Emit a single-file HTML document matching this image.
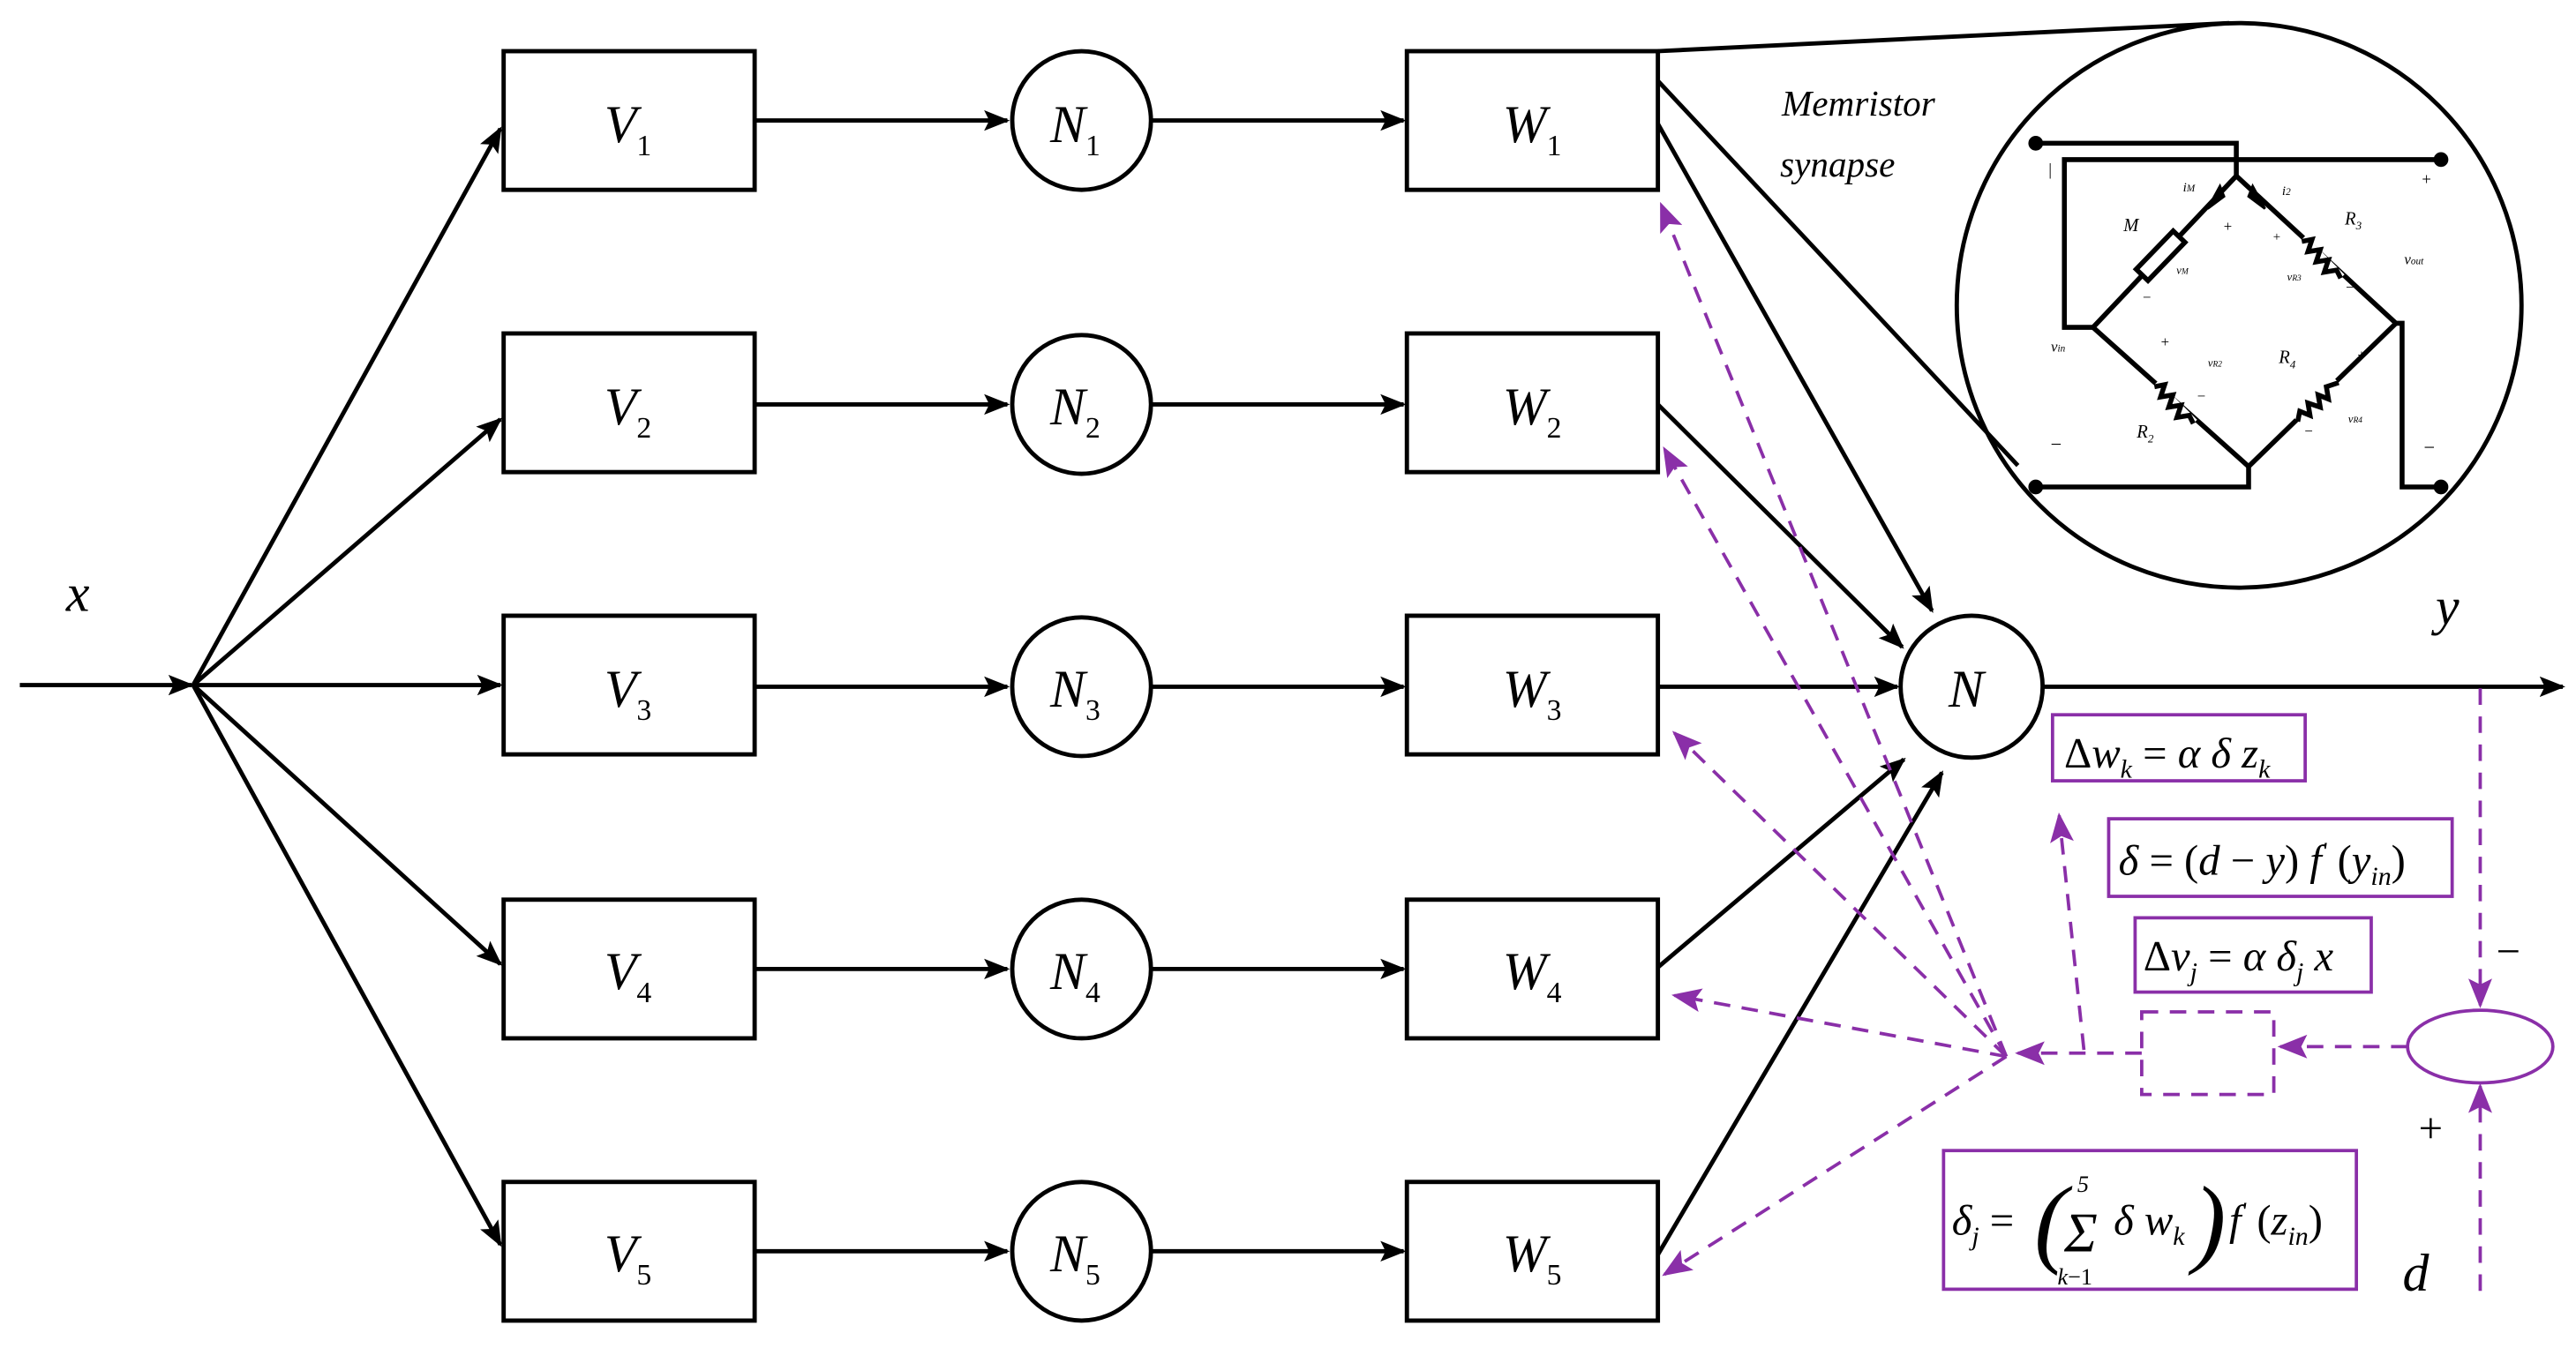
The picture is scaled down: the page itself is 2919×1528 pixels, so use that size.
<!DOCTYPE html>
<html><head><meta charset="utf-8"><style>
html,body{margin:0;padding:0;background:#fff;}
svg{display:block;}
svg text{font-family:"Liberation Serif","Times New Roman",serif;font-style:italic;}
</style></head><body>
<svg width="2919" height="1528" viewBox="0 0 1560 816.6" preserveAspectRatio="none" xmlns="http://www.w3.org/2000/svg" font-family="Liberation Serif, serif">
<defs>
<marker id="a" viewBox="0 0 10 10" refX="9" refY="5" markerWidth="6" markerHeight="6" orient="auto" markerUnits="strokeWidth"><path d="M0,1 L10,5 L0,9 L2,5z" fill="#000"/></marker>
<marker id="p" viewBox="0 0 10 10" refX="9" refY="5" markerWidth="9" markerHeight="9" orient="auto" markerUnits="strokeWidth"><path d="M0,1 L10,5 L0,9 L2,5z" fill="#8a2fa8"/></marker>
</defs>
<g stroke="#000" stroke-width="2.6" fill="none">
<line x1="12" y1="415" x2="116" y2="415" marker-end="url(#a)"/>
<line x1="117" y1="415" x2="303" y2="78" marker-end="url(#a)"/>
<line x1="117" y1="415" x2="303" y2="254" marker-end="url(#a)"/>
<line x1="117" y1="415" x2="303" y2="415" marker-end="url(#a)"/>
<line x1="117" y1="415" x2="303" y2="584" marker-end="url(#a)"/>
<line x1="117" y1="415" x2="303" y2="754" marker-end="url(#a)"/>
<rect x="305" y="31" width="152" height="84"/>
<rect x="305" y="202" width="152" height="84"/>
<rect x="305" y="373" width="152" height="84"/>
<rect x="305" y="545" width="152" height="84"/>
<rect x="305" y="716" width="152" height="84"/>
<rect x="852" y="31" width="152" height="84"/>
<rect x="852" y="202" width="152" height="84"/>
<rect x="852" y="373" width="152" height="84"/>
<rect x="852" y="545" width="152" height="84"/>
<rect x="852" y="716" width="152" height="84"/>
<g id="r">
<line x1="458" y1="73" x2="610" y2="73" marker-end="url(#a)"/>
<line x1="698" y1="73" x2="850" y2="73" marker-end="url(#a)"/>
</g>
<use href="#r" y="172"/><use href="#r" y="343"/><use href="#r" y="514"/><use href="#r" y="685"/>
<ellipse cx="655" cy="73" rx="42" ry="42"/>
<ellipse cx="655" cy="245" rx="42" ry="42"/>
<ellipse cx="655" cy="416" rx="42" ry="42"/>
<ellipse cx="655" cy="587" rx="42" ry="42"/>
<ellipse cx="655" cy="758" rx="42" ry="42"/>
<ellipse cx="1194" cy="416" rx="43" ry="43"/>
<line x1="1004" y1="31" x2="1350" y2="14"/>
<line x1="1004" y1="49" x2="1222" y2="282"/>
<line x1="1004" y1="75" x2="1170" y2="370" marker-end="url(#a)"/>
<line x1="1004" y1="245" x2="1152" y2="392" marker-end="url(#a)"/>
<line x1="1004" y1="416" x2="1149" y2="416" marker-end="url(#a)"/>
<line x1="1004" y1="586" x2="1153" y2="460" marker-end="url(#a)"/>
<line x1="1004" y1="760" x2="1176" y2="468" marker-end="url(#a)"/>
<line x1="1237" y1="416" x2="1552" y2="416" marker-end="url(#a)"/>
<ellipse cx="1356" cy="185" rx="171" ry="171"/>
</g>
<!-- circuit -->
<g transform="translate(1175.8,0) scale(0.2479)" stroke="#000" stroke-width="12" fill="none">
<polyline points="230,350 720,350 720,430"/>
<polyline points="1220,390 300,390 300,800 370,800"/>
<polyline points="230,1190 750,1190 750,1140"/>
<polyline points="1110,790 1125,790 1125,1190 1220,1190"/>
<polyline points="720,430 370,800 750,1140 1110,790 720,430"/>
<circle cx="230" cy="350" r="12" fill="#000"/><circle cx="1220" cy="390" r="12" fill="#000"/>
<circle cx="230" cy="1190" r="12" fill="#000"/><circle cx="1220" cy="1190" r="12" fill="#000"/>
<rect x="470" y="605" width="130" height="40" transform="rotate(-46 535 625)" fill="#fff"/>
<g stroke="#fff" stroke-width="26"><line x1="880" y1="585" x2="975" y2="680"/><line x1="520" y1="940" x2="615" y2="1035"/><line x1="870" y1="1030" x2="970" y2="935"/></g>
<polyline points="880,590 905,585 895,615 925,610 915,640 945,635 935,665 965,660 975,680"/>
<polyline points="520,945 545,940 535,970 565,965 555,995 585,990 575,1020 605,1015 615,1035"/>
<polyline points="870,1030 875,1005 900,1015 895,985 925,995 920,965 945,975 940,945 970,935"/>
<path d="M650,510 L680,455 L690,480z M790,510 L760,455 L750,480z" fill="#000" stroke-width="6"/>
</g>
<g font-size="11" fill="#000">
<text x="1286" y="140">M</text><text x="1420" y="136">R<tspan font-size="7" dy="3">3</tspan></text>
<text x="1294" y="265">R<tspan font-size="7" dy="3">2</tspan></text><text x="1380" y="220">R<tspan font-size="7" dy="3">4</tspan></text>
<text x="1322" y="116" font-size="8">i<tspan font-size="6">M</tspan></text><text x="1382" y="118" font-size="8">i<tspan font-size="6">2</tspan></text>
<text x="1318" y="166" font-size="7">v<tspan font-size="5">M</tspan></text><text x="1385" y="170" font-size="7">v<tspan font-size="5">R3</tspan></text>
<text x="1337" y="222" font-size="7">v<tspan font-size="5">R2</tspan></text><text x="1422" y="256" font-size="7">v<tspan font-size="5">R4</tspan></text>
<text x="1456" y="160" font-size="9">v<tspan font-size="6">out</tspan></text><text x="1242" y="213" font-size="9">v<tspan font-size="6">in</tspan></text>
<text x="1346" y="140" font-size="9" font-style="normal">+</text><text x="1376" y="146" font-size="8" font-style="normal">+</text>
<text x="1297" y="183" font-size="9" font-style="normal">−</text><text x="1420" y="177" font-size="9" font-style="normal">−</text>
<text x="1308" y="210" font-size="9" font-style="normal">+</text><text x="1427" y="218" font-size="9" font-style="normal">+</text>
<text x="1330" y="243" font-size="9" font-style="normal">−</text><text x="1395" y="264" font-size="9" font-style="normal">−</text>
<text x="1240" y="106" font-size="10" font-style="normal">|</text><text x="1466" y="112" font-size="10" font-style="normal">+</text>
<text x="1241" y="273" font-size="12" font-style="normal">−</text><text x="1467" y="275" font-size="12" font-style="normal">−</text>
</g>
<g fill="#000" font-size="32">
<text x="40" y="370">x</text>
<text x="1475" y="378">y</text>
<text x="1455" y="782">d</text>
<text x="1079" y="70" font-size="22">Memristor</text>
<text x="1078" y="107" font-size="22">synapse</text>
<text x="366" y="86">V<tspan font-size="18" dy="8" font-style="normal">1</tspan></text>
<text x="366" y="257">V<tspan font-size="18" dy="8" font-style="normal">2</tspan></text>
<text x="366" y="428">V<tspan font-size="18" dy="8" font-style="normal">3</tspan></text>
<text x="366" y="599">V<tspan font-size="18" dy="8" font-style="normal">4</tspan></text>
<text x="366" y="770">V<tspan font-size="18" dy="8" font-style="normal">5</tspan></text>
<text x="636" y="86">N<tspan font-size="18" dy="8" font-style="normal">1</tspan></text>
<text x="636" y="257">N<tspan font-size="18" dy="8" font-style="normal">2</tspan></text>
<text x="636" y="428">N<tspan font-size="18" dy="8" font-style="normal">3</tspan></text>
<text x="636" y="599">N<tspan font-size="18" dy="8" font-style="normal">4</tspan></text>
<text x="636" y="770">N<tspan font-size="18" dy="8" font-style="normal">5</tspan></text>
<text x="910" y="86">W<tspan font-size="18" dy="8" font-style="normal">1</tspan></text>
<text x="910" y="257">W<tspan font-size="18" dy="8" font-style="normal">2</tspan></text>
<text x="910" y="428">W<tspan font-size="18" dy="8" font-style="normal">3</tspan></text>
<text x="910" y="599">W<tspan font-size="18" dy="8" font-style="normal">4</tspan></text>
<text x="910" y="770">W<tspan font-size="18" dy="8" font-style="normal">5</tspan></text>
<text x="1180" y="428">N</text>
<text x="1510" y="585" font-style="normal" font-size="26">−</text>
<text x="1463" y="692" font-style="normal" font-size="26">+</text>
</g>
<g stroke="#8a2fa8" stroke-width="2" fill="none" stroke-dasharray="10,7">
<line x1="1215" y1="640" x2="1006" y2="124" marker-end="url(#p)"/>
<line x1="1215" y1="640" x2="1008" y2="272" marker-end="url(#p)"/>
<line x1="1215" y1="640" x2="1014" y2="444" marker-end="url(#p)"/>
<line x1="1215" y1="640" x2="1014" y2="603" marker-end="url(#p)"/>
<line x1="1215" y1="640" x2="1008" y2="772" marker-end="url(#p)"/>
<line x1="1297" y1="638" x2="1222" y2="638" marker-end="url(#p)"/>
<line x1="1262" y1="636" x2="1247" y2="494" marker-end="url(#p)"/>
<line x1="1458" y1="634" x2="1381" y2="634" marker-end="url(#p)"/>
<line x1="1502" y1="417" x2="1502" y2="609" marker-end="url(#p)"/>
<line x1="1502" y1="782" x2="1502" y2="658" marker-end="url(#p)"/>
<rect x="1297" y="613" width="80" height="50"/>
</g>
<g stroke="#8a2fa8" stroke-width="2" fill="none">
<ellipse cx="1502" cy="634" rx="44" ry="22"/>
<rect x="1243" y="433" width="153" height="40"/>
<rect x="1277" y="496" width="208" height="47"/>
<rect x="1293" y="556" width="143" height="45"/>
<rect x="1177" y="697" width="250" height="84"/>
</g>
<g fill="#000" font-size="26">
<text x="1250" y="465"><tspan font-style="normal">Δ</tspan>w<tspan font-size="16" dy="6">k</tspan><tspan dy="-6" font-style="normal"> = </tspan>α δ z<tspan font-size="16" dy="6">k</tspan></text>
<text x="1283" y="530">δ<tspan font-style="normal"> = (</tspan>d<tspan font-style="normal"> − </tspan>y<tspan font-style="normal">) </tspan>f<tspan font-size="14" dy="-10">'</tspan><tspan font-style="normal" dy="10"> (</tspan>y<tspan font-size="16" dy="6">in</tspan><tspan font-style="normal" dy="-6">)</tspan></text>
<text x="1298" y="588"><tspan font-style="normal">Δ</tspan>v<tspan font-size="16" dy="6">j</tspan><tspan dy="-6" font-style="normal"> = </tspan>α δ<tspan font-size="16" dy="6">j</tspan><tspan dy="-6"> x</tspan></text>
<text x="1182" y="748">δ<tspan font-size="16" dy="6">j</tspan><tspan dy="-6" font-style="normal"> = </tspan></text>
<text x="1232" y="760" font-size="60" font-style="normal">(</text>
<text x="1250" y="758" font-size="34" font-style="normal">Σ</text>
<text x="1258" y="722" font-size="14" font-style="normal">5</text>
<text x="1246" y="778" font-size="14">k<tspan font-style="normal">−1</tspan></text>
<text x="1280" y="748">δ w<tspan font-size="16" dy="6">k</tspan></text>
<text x="1328" y="760" font-size="60" font-style="normal">)</text>
<text x="1350" y="748">f<tspan font-size="14" dy="-10">'</tspan><tspan font-style="normal" dy="10"> (</tspan>z<tspan font-size="16" dy="6">in</tspan><tspan font-style="normal" dy="-6">)</tspan></text>
</g>
</svg>
</body></html>
